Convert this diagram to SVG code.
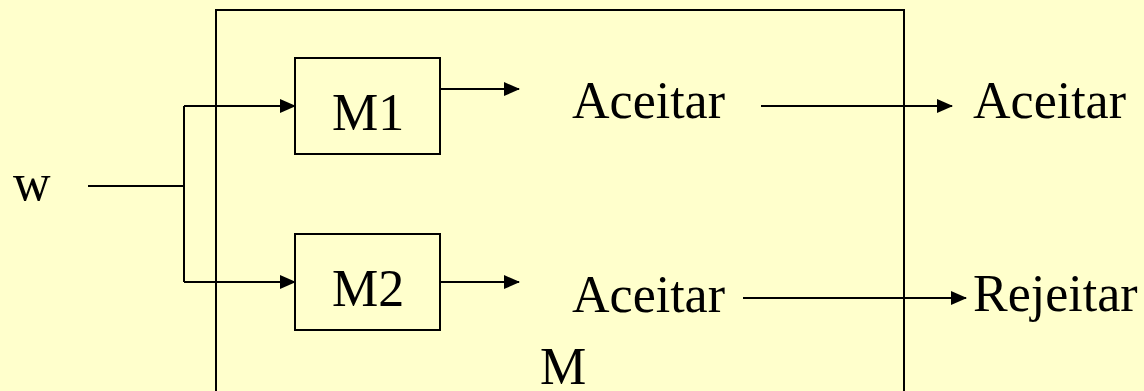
<svg xmlns="http://www.w3.org/2000/svg" width="1144" height="391" viewBox="0 0 1144 391">
<style>
.t{font-family:'Liberation Serif',serif;font-size:52px;fill:#000}
.ln{stroke:#000;stroke-width:2;fill:none}
.box{stroke:#000;stroke-width:2;fill:none}
</style>
<defs>
<marker id="ah" markerWidth="16" markerHeight="14" refX="15" refY="7" orient="auto" markerUnits="userSpaceOnUse">
<path d="M0,0 L16,7 L0,14 Z" fill="#000"/>
</marker>
</defs>
<rect width="1144" height="391" fill="#FFFFCC"/>
<g id="M">
<path class="box" d="M216,400 V10 H904 V400"/>
<text class="t" x="540" y="384">M</text>
</g>
<g id="w"><text class="t" x="13" y="200">w</text></g>
<g id="M1"><rect class="box" x="295" y="58" width="145" height="96"/><text class="t" x="332" y="130">M1</text></g>
<g id="M2"><rect class="box" x="295" y="234" width="145" height="96"/><text class="t" x="332" y="306">M2</text></g>
<g id="acc1"><text class="t" x="572" y="118">Aceitar</text></g>
<g id="acc2"><text class="t" x="572" y="312">Aceitar</text></g>
<g id="out1"><text class="t" x="973" y="118">Aceitar</text></g>
<g id="out2"><text class="t" x="973" y="311">Rejeitar</text></g>
<g id="connectors">
<path class="ln" d="M88,186 H184"/>
<path class="ln" d="M184,106 V282"/>
<path class="ln" d="M184,106 H295" marker-end="url(#ah)"/>
<path class="ln" d="M184,282 H295" marker-end="url(#ah)"/>
<path class="ln" d="M440,89 H519" marker-end="url(#ah)"/>
<path class="ln" d="M440,282 H519" marker-end="url(#ah)"/>
<path class="ln" d="M761,106 H952" marker-end="url(#ah)"/>
<path class="ln" d="M743,298 H966" marker-end="url(#ah)"/>
</g>
</svg>
